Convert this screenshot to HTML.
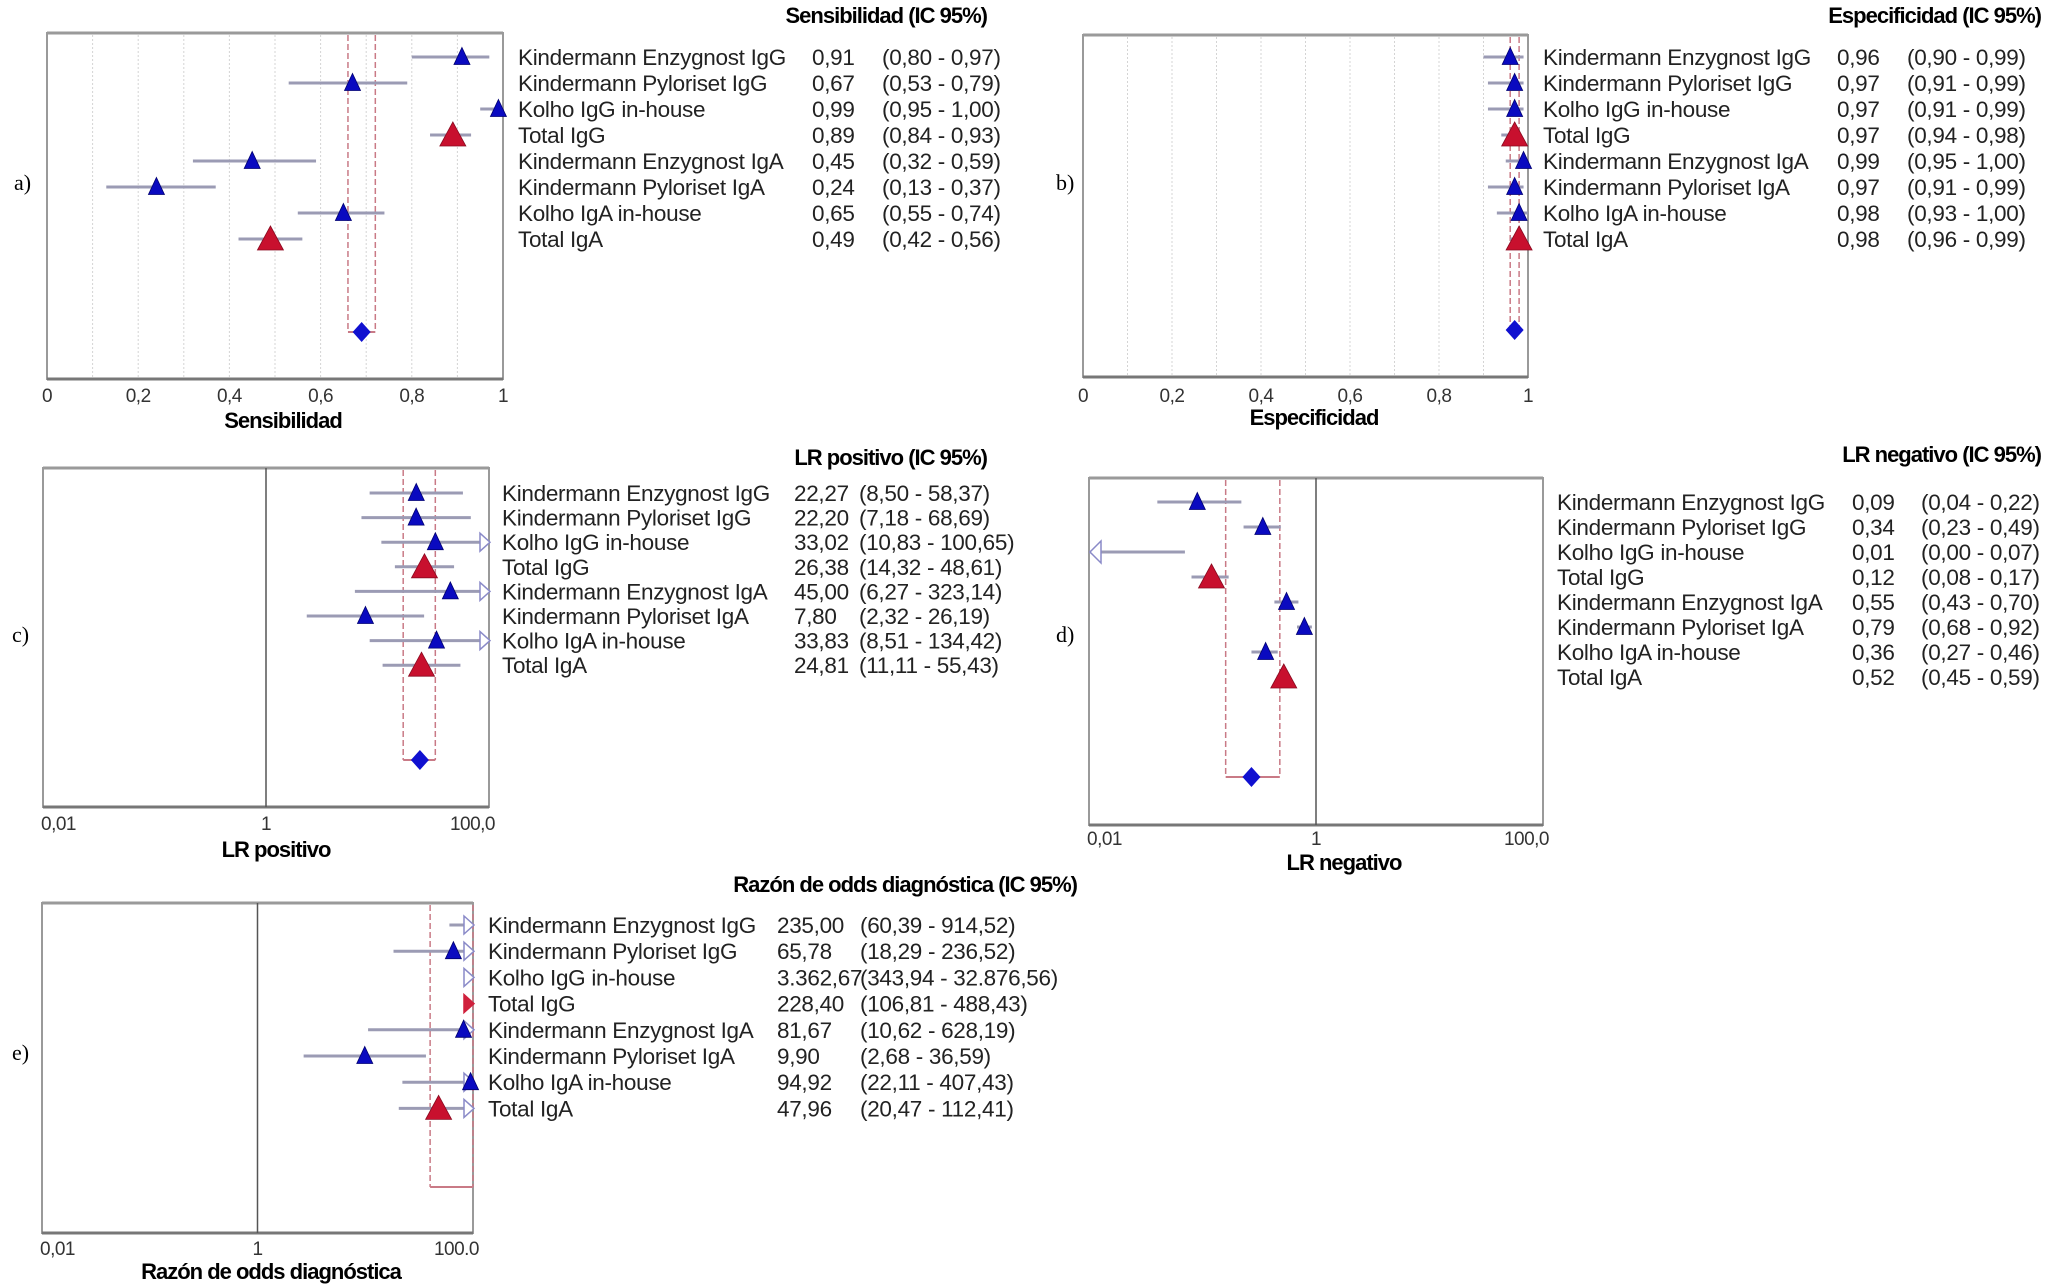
<!DOCTYPE html>
<html><head><meta charset="utf-8"><style>
html,body{margin:0;padding:0;background:#fff;}
svg{display:block;}
text{font-family:"Liberation Sans",sans-serif;}
.hdr{font-weight:bold;font-size:22px;letter-spacing:-1px;}
.row{font-size:22.5px;fill:#222;letter-spacing:-0.3px;}
.tick{font-size:19px;fill:#333;letter-spacing:-0.5px;}
.atitle{font-weight:bold;font-size:22px;letter-spacing:-1px;}
.plet{font-family:"Liberation Serif",serif;font-size:22px;}
</style></head><body>
<svg id="chart" width="2050" height="1287" viewBox="0 0 2050 1287" xmlns="http://www.w3.org/2000/svg">
<defs>
<clipPath id="clipA"><rect x="0" y="0" width="1000" height="440"/></clipPath>
<clipPath id="clipB"><rect x="1025" y="0" width="1005" height="440"/></clipPath>
<clipPath id="clipC"><rect x="0" y="430" width="1030" height="440"/></clipPath>
<clipPath id="clipD"><rect x="1025" y="430" width="1017" height="440"/></clipPath>
<clipPath id="clipE"><rect x="0" y="860" width="1085" height="427"/></clipPath>
</defs>
</svg>
<script>
const studies = ["Kindermann Enzygnost IgG","Kindermann Pyloriset IgG","Kolho IgG in-house","Total IgG","Kindermann Enzygnost IgA","Kindermann Pyloriset IgA","Kolho IgA in-house","Total IgA"];
const isTotal = [0,0,0,1,0,0,0,1];
const sensEst = [0.91,0.67,0.99,0.89,0.45,0.24,0.65,0.49];
const sensLo  = [0.80,0.53,0.95,0.84,0.32,0.13,0.55,0.42];
const sensHi  = [0.97,0.79,1.00,0.93,0.59,0.37,0.74,0.56];
const sensPooled = [0.69,0.66,0.72];
const specEst = [0.96,0.97,0.97,0.97,0.99,0.97,0.98,0.98];
const specLo  = [0.90,0.91,0.91,0.94,0.95,0.91,0.93,0.96];
const specHi  = [0.99,0.99,0.99,0.98,1.00,0.99,1.00,0.99];
const specPooled = [0.97,0.96,0.98];
const lrpEst = [22.27,22.20,33.02,26.38,45.00,7.80,33.83,24.81];
const lrpLo  = [8.50,7.18,10.83,14.32,6.27,2.32,8.51,11.11];
const lrpHi  = [58.37,68.69,100.65,48.61,323.14,26.19,134.42,55.43];
const lrpPooled = [24,17,33];
const lrnEst = [0.09,0.34,0.01,0.12,0.55,0.79,0.36,0.52];
const lrnLo  = [0.04,0.23,0.00,0.08,0.43,0.68,0.27,0.45];
const lrnHi  = [0.22,0.49,0.07,0.17,0.70,0.92,0.46,0.59];
const lrnPooled = [0.27,0.16,0.48];
const dorEst = [235.00,65.78,3362.67,228.40,81.67,9.90,94.92,47.96];
const dorLo  = [60.39,18.29,343.94,106.81,10.62,2.68,22.11,20.47];
const dorHi  = [914.52,236.52,32876.56,488.43,628.19,36.59,407.43,112.41];
const dorPooled = [130,40,400];
const linTicks = ["0","0,2","0,4","0,6","0,8","1"];
const logTicks = ["0,01","1","100,0"];
const logTicksE = ["0,01","1","100.0"];

const NS="http://www.w3.org/2000/svg";
const svg=document.getElementById('chart');
function mk(tag,attrs,parent){const e=document.createElementNS(NS,tag);for(const k in attrs)e.setAttribute(k,attrs[k]);(parent||svg).appendChild(e);return e;}
function fmt(v){let s=v.toFixed(2);let [i,d]=s.split('.');i=i.replace(/\B(?=(\d{3})+(?!\d))/g,'.');return i+','+d;}

const panels=[
 {id:'sens',clip:'clipA',x0:47,x1:503,y0:33,y1:379,log:false,min:0,max:1,est:sensEst,lo:sensLo,hi:sensHi,pooled:sensPooled,pooledY:332,
  r0:57,dr:26,lx:518,vx:812,cx:882,hdr:"Sensibilidad (IC 95%)",hx:987,hy:23,ticks:linTicks,ty:402,title:"Sensibilidad",tx:283,tty:428,let:"a)",letx:14,lety:190,grid:true},
 {id:'spec',clip:'clipB',x0:1083,x1:1528,y0:35,y1:377,log:false,min:0,max:1,est:specEst,lo:specLo,hi:specHi,pooled:specPooled,pooledY:330,
  r0:57,dr:26,lx:1543,vx:1837,cx:1907,hdr:"Especificidad (IC 95%)",hx:2041,hy:23,ticks:linTicks,ty:402,title:"Especificidad",tx:1314,tty:425,let:"b)",letx:1056,lety:190,grid:true},
 {id:'lrp',clip:'clipC',x0:43,x1:489,y0:468,y1:807,log:true,min:-2,max:2,est:lrpEst,lo:lrpLo,hi:lrpHi,pooled:lrpPooled,pooledY:760,
  r0:493,dr:24.6,lx:502,vx:794,cx:859,hdr:"LR positivo (IC 95%)",hx:987,hy:465,ticks:logTicks,ty:830,title:"LR positivo",tx:276,tty:857,let:"c)",letx:12,lety:642,grid:false},
 {id:'lrn',clip:'clipD',x0:1089,x1:1543,y0:478,y1:825,log:true,min:-2,max:2,est:lrnEst,lo:lrnLo,hi:lrnHi,pooled:lrnPooled,pooledY:777,
  r0:502,dr:25,lx:1557,vx:1852,cx:1921,hdr:"LR  negativo (IC 95%)",hx:2041,hy:462,ticks:logTicks,ty:845,title:"LR  negativo",tx:1344,tty:870,let:"d)",letx:1056,lety:642,grid:false},
 {id:'dor',clip:'clipE',x0:42,x1:473,y0:903,y1:1233,log:true,min:-2,max:2,est:dorEst,lo:dorLo,hi:dorHi,pooled:dorPooled,pooledY:1187,
  r0:925,dr:26.2,lx:488,vx:777,cx:860,hdr:"Razón de odds diagnóstica (IC 95%)",hx:1077,hy:892,ticks:logTicksE,ty:1255,title:"Razón de odds diagnóstica",tx:271,tty:1279,let:"e)",letx:12,lety:1060,grid:false}
];

panels.forEach(p=>{
  const g=mk('g',{'clip-path':'url(#'+p.clip+')'});
  
  
  const xs=v=>{let t=p.log?(v<=0?-99:Math.log10(v)):v;return p.x0+(t-p.min)/(p.max-p.min)*(p.x1-p.x0);};
  const inRange=v=>{const x=xs(v);return x>p.x0+0.5&&x<p.x1-0.5;};
  const fr=mk('rect',{x:p.x0,y:p.y0,width:p.x1-p.x0,height:p.y1-p.y0,fill:'none',stroke:'#9a9a9a','stroke-width':2},g);
  
  
  mk('line',{x1:p.x0,x2:p.x1,y1:p.y0,y2:p.y0,stroke:'#9a9a9a','stroke-width':3},g);
  const ax=mk('line',{x1:p.x0,x2:p.x1,y1:p.y1,y2:p.y1,stroke:'#777','stroke-width':3},g);
  
  
  if(p.grid){for(let i=1;i<10;i++){const x=xs(i/10);mk('line',{x1:x,x2:x,y1:p.y0+2,y2:p.y1-2,stroke:'#d4d4d4','stroke-width':1,'stroke-dasharray':'2,2'},g);}}
  else{const x=xs(1);const rl=mk('line',{x1:x,x2:x,y1:p.y0,y2:p.y1,stroke:'#555','stroke-width':1.5},g);}
  p.ticks.forEach((t,i)=>{
    const v=p.log?Math.pow(10,p.min+i*(p.max-p.min)/(p.ticks.length-1)):i/(p.ticks.length-1);
    let x=xs(v);let anchor='middle';
    if(p.log&&i==0){anchor='start';x-=2;} if(p.log&&i==p.ticks.length-1){anchor='end';x+=6;}
    const tt=mk('text',{x:x,y:p.ty,'text-anchor':anchor,class:'tick'});tt.textContent=t;
    
    
  });
  const at=mk('text',{x:p.tx,y:p.tty,'text-anchor':'middle',class:'atitle'});at.textContent=p.title;
  
  
  const hd=mk('text',{x:p.hx,y:p.hy,'text-anchor':'end',class:'hdr'});hd.textContent=p.hdr;
  
  
  const pl=mk('text',{x:p.letx,y:p.lety,class:'plet'});pl.textContent=p.let;
  
  
  const pc='#c97a86';
  const plo=Math.min(Math.max(xs(p.pooled[1]),p.x0),p.x1), phi=Math.min(Math.max(xs(p.pooled[2]),p.x0),p.x1);
  [plo,phi].forEach(x=>{const dl=mk('line',{x1:x,x2:x,y1:p.y0+2,y2:p.pooledY,stroke:pc,'stroke-width':1.5,'stroke-dasharray':'6,3'},g);});
  mk('line',{x1:plo,x2:phi,y1:p.pooledY,y2:p.pooledY,stroke:pc,'stroke-width':2},g);
  if(inRange(p.pooled[0])){const x=xs(p.pooled[0]),y=p.pooledY;
    const d=mk('polygon',{points:`${x},${y-10} ${x+9},${y} ${x},${y+10} ${x-9},${y}`,fill:'#1010d0'},g);
    
    }
  studies.forEach((s,i)=>{
    const y=p.r0+i*p.dr;
    const lt=mk('text',{x:p.lx,y:y+8,class:'row'},g);lt.textContent=s;
    
    
    const vt=mk('text',{x:p.vx,y:y+8,class:'row'},g);vt.textContent=fmt(p.est[i]);
    
    
    const ct=mk('text',{x:p.cx,y:y+8,class:'row'},g);ct.textContent='('+fmt(p.lo[i])+' - '+fmt(p.hi[i])+')';
    
    
    const xl=xs(p.lo[i]),xh=xs(p.hi[i]);
    const cl=Math.max(xl,p.x0),ch=Math.min(xh,p.x1);
    const tot=isTotal[i];
    if(ch>cl){const ci=mk('line',{x1:cl,x2:ch,y1:y,y2:y,stroke:'#9b9bb4','stroke-width':3},g);
      
      }
    const offAll = xl>=p.x1 || xh<=p.x0;
    if(xh>p.x1){const x=p.x1;const ar=mk('polygon',{points:`${x-9},${y-9} ${x+1},${y} ${x-9},${y+9}`,fill:(tot&&offAll)?'#d0203c':'#fff',stroke:(tot&&offAll)?'#d0203c':'#8a8ac8','stroke-width':1.5},g);
      
      }
    if(xl<p.x0){const x=p.x0;const ar=mk('polygon',{points:`${x+12},${y-11} ${x+1},${y} ${x+12},${y+11}`,fill:'#fff',stroke:'#8a8ac8','stroke-width':1.5},g);
      
      }
    if(inRange(p.est[i])){const x=xs(p.est[i]);
      const w=tot?13:8,h=tot?22:15;
      const tri=mk('polygon',{points:`${x},${y-h/2-2} ${x+w},${y+h/2} ${x-w},${y+h/2}`,fill:tot?'#c8102e':'#0a0ac0',stroke:tot?'#8a0a20':'#000070','stroke-width':0.8},g);
      
      }
  });
});
</script>
</body></html>
